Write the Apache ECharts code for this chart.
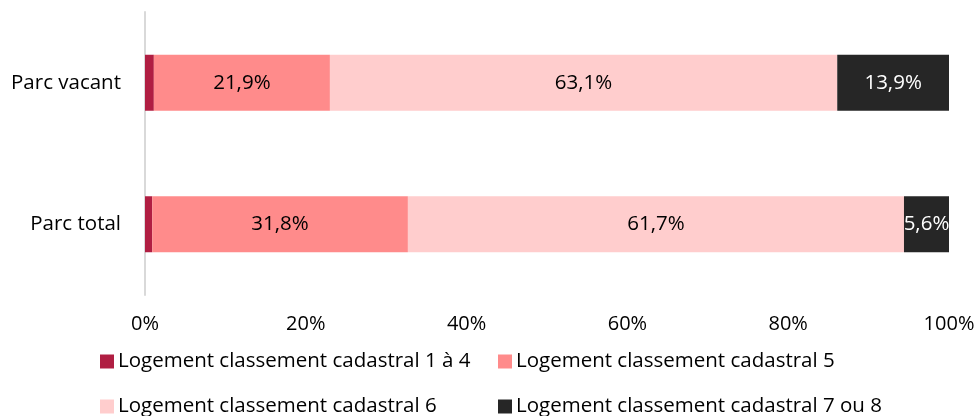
<!DOCTYPE html>
<html>
<head>
<meta charset="utf-8">
<script src="https://cdn.jsdelivr.net/npm/echarts@6/dist/echarts.min.js"></script>
<style>
  html, body { margin: 0; padding: 0; background: #fff; }
  #chart { width: 979px; height: 416px; }
</style>
</head>
<body>
<div id="chart"></div>
<script>
// Categories (bottom to top on the vertical axis)
const categories = ['Parc total', 'Parc vacant'];

// Shares of each cadastral class, in percent
const seriesNames = [
  'Logement classement cadastral 1 à 4',
  'Logement classement cadastral 5',
  'Logement classement cadastral 6',
  'Logement classement cadastral 7 ou 8'
];
const class1to4 = [0.9, 1.1];
const class5 = [31.8, 21.9];
const class6 = [61.7, 63.1];
const class7or8 = [5.6, 13.9];

const xTicks = [0, 20, 40, 60, 80, 100];

const colors = ['#B01E42', '#FF8B8B', '#FFCDCD', '#262626'];
const labelColors = [null, '#000', '#000', '#fff'];
const values = [class1to4, class5, class6, class7or8];
const FONT = '"Open Sans", "Noto Sans", sans-serif';

const chart = echarts.init(document.getElementById('chart'), null, { renderer: 'canvas' });

const series = values.map((data, i) => ({
  name: seriesNames[i],
  type: 'bar',
  stack: 'total',
  barWidth: 56,
  data: data,
  itemStyle: { color: colors[i] },
  label: labelColors[i] ? {
    show: true,
    position: 'inside',
    color: labelColors[i],
    fontFamily: FONT,
    fontSize: 20.5,
    formatter: p => p.value.toFixed(1).replace('.', ',') + '%'
  } : { show: false },
  emphasis: { disabled: true }
}));

const legendPos = [
  { left: 95, top: 346 },
  { left: 493, top: 346 },
  { left: 95, top: 391 },
  { left: 493, top: 391 }
];

chart.setOption({
  animation: false,
  grid: { left: 145, right: 30, top: 12, bottom: 121, containLabel: false },
  xAxis: {
    type: 'value',
    min: 0,
    max: 100,
    interval: 20,
    axisLine: { show: false },
    axisTick: { show: false },
    splitLine: { show: false },
    axisLabel: {
      margin: 19,
      color: '#000',
      fontFamily: FONT,
      fontSize: 20,
      formatter: v => xTicks.includes(v) ? v + '%' : ''
    }
  },
  yAxis: {
    type: 'category',
    data: categories,
    axisLine: { show: true, lineStyle: { color: '#D9D9D9', width: 2 } },
    axisTick: { show: false },
    axisLabel: { margin: 24, color: '#000', fontFamily: FONT, fontSize: 20.5 }
  },
  legend: seriesNames.map((n, i) => ({
    data: [n],
    left: legendPos[i].left,
    top: legendPos[i].top,
    itemWidth: 14,
    itemHeight: 14,
    itemGap: 6,
    icon: 'rect',
    selectedMode: false,
    textStyle: { color: '#000', fontFamily: FONT, fontSize: 20.5, padding: [0, 0, 0, -1] }
  })),
  series: series
});
</script>
</body>
</html>
